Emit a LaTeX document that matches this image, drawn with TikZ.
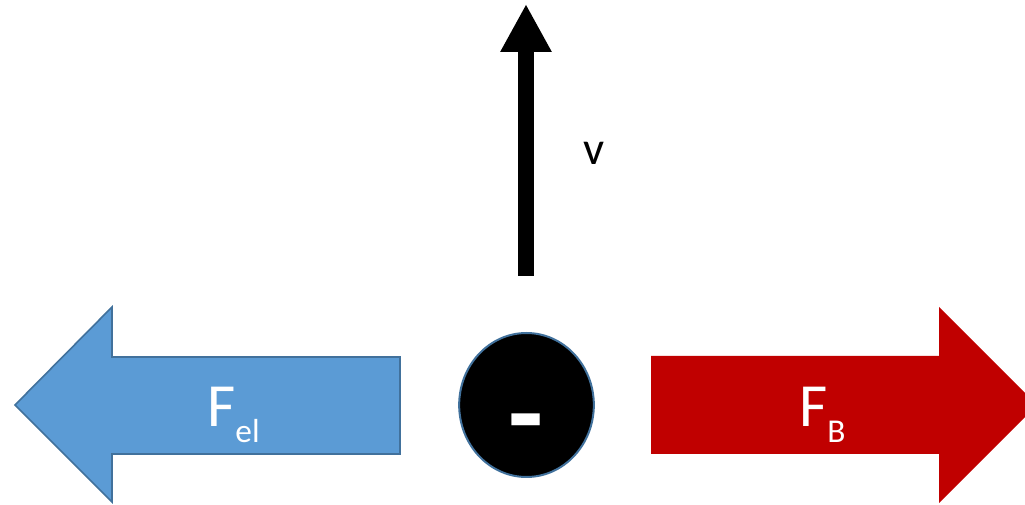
\documentclass[tikz,border=0pt]{standalone}
\usepackage{fontspec}
\setmainfont{Carlito}
\usetikzlibrary{arrows.meta, shapes.geometric, positioning, calc}
\definecolor{elblue}{HTML}{5B9BD5}
\definecolor{edgeblue}{HTML}{41719C}
\definecolor{bred}{HTML}{C00000}
\newcommand{\forcelabel}[2]{\fontsize{46pt}{46pt}\selectfont #1\raisebox{-12pt}{\fontsize{25pt}{25pt}\selectfont #2}}
\tikzset{
  elarrow/.style = {fill=elblue, draw=edgeblue, line width=1.2pt, line join=miter},
  barrow/.style  = {fill=bred},
  charge/.style  = {draw=edgeblue, fill=black, ellipse, line width=1.5pt,
                    minimum width=101pt, minimum height=108pt, inner sep=0pt},
  velo/.style    = {-{Triangle[length=36pt, width=36pt]}, line width=12pt, draw=black},
  flabel/.style  = {text=white, inner sep=0pt, anchor=base west}
}

\begin{document}
\begin{tikzpicture}[x=0.75pt, y=-0.75pt]
\useasboundingbox (0,0) rectangle (1025,505);
% Electric force (left)
\draw[elarrow] (400,357) -- (112,357) -- (112,307) -- (15,405)
  -- (112,502) -- (112,454) -- (400,454) -- cycle;
\node[flabel] (fel) at (207,427) {\forcelabel{F}{el}};
% Magnetic force (right)
\fill[barrow] (651,356) -- (939,356) -- (939,307) -- (1037,405)
  -- (939,503) -- (939,454) -- (651,454) -- cycle;
\node[flabel] (fb) at (799,427) {\forcelabel{F}{B}};
% Electron
\node[charge] (e) at (526.5,405) {};
\node[text=white, inner sep=0pt, anchor=base, font=\fontsize{86pt}{86pt}\selectfont\bfseries]
  (minus) at (526,453) {-};
% Velocity
\coordinate (vtail) at (526,276);
\coordinate (vtip) at (526,4);
\draw[velo] (vtail) -- (vtip);
\node[inner sep=0pt, anchor=base west, font=\fontsize{35pt}{35pt}\selectfont] (v) at (583,165) {v};
\end{tikzpicture}
\end{document}
